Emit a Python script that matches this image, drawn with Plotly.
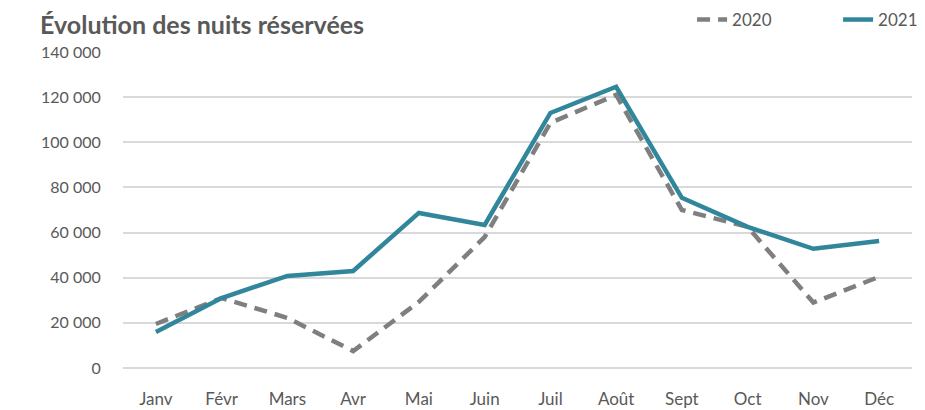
import plotly.graph_objects as go

mois = ["Janv", "Févr", "Mars", "Avr", "Mai", "Juin",
        "Juil", "Août", "Sept", "Oct", "Nov", "Déc"]
nuits_2020 = [19500, 31000, 22200, 7500, 29300, 58000,
              108600, 121000, 70000, 62500, 29000, 40400]
nuits_2021 = [16000, 31000, 40800, 43000, 68700, 63400,
              113000, 124600, 75400, 62500, 52800, 56300]

fig = go.Figure()
fig.add_trace(go.Scatter(x=mois, y=nuits_2020, name="2020", mode="lines",
                         line=dict(color="#7f7f7f", width=4.5, dash="13px,8px")))
fig.add_trace(go.Scatter(x=mois, y=nuits_2021, name="2021", mode="lines",
                         line=dict(color="#31869b", width=4.5)))

# la page ajoute 8 px de marge autour de la figure
fig.update_layout(
    width=917, height=402,
    paper_bgcolor="white", plot_bgcolor="white",
    font=dict(family="Lato, Open Sans, sans-serif", size=17, color="#595959"),
    separators=", ",
    margin=dict(l=115, r=13, t=44, b=42, autoexpand=False),
    title=dict(text="<b>Évolution des nuits réservées</b>", x=0.035, xanchor="left",
               y=1 - 17 / 402, yanchor="middle", font=dict(size=25, color="#595959")),
    legend=dict(orientation="h", xref="container", yref="container",
                x=0.746, xanchor="left", y=1 - 12 / 402, yanchor="middle",
                font=dict(size=17, color="#595959"), bgcolor="rgba(0,0,0,0)",
                entrywidth=101),
    showlegend=True,
)
fig.update_xaxes(range=[-0.5, 11.5], showgrid=False, showline=False,
                 ticks="outside", ticklen=16, tickcolor="white",
                 tickfont=dict(size=17))
fig.update_yaxes(range=[0, 140000], dtick=20000, tickformat=",d",
                 gridcolor="#d9d9d9", gridwidth=1.5, zeroline=True,
                 zerolinecolor="#d9d9d9", zerolinewidth=1.5,
                 ticks="outside", ticklen=18, tickcolor="white",
                 tickfont=dict(size=16))

fig.write_html("out.html")
